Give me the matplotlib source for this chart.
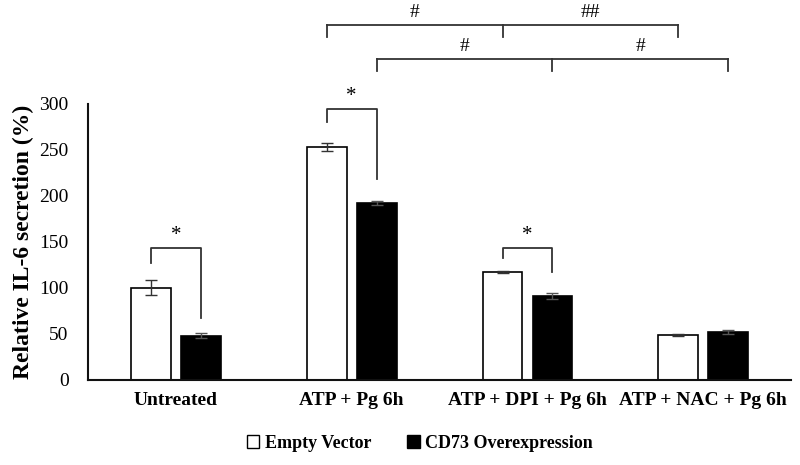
import numpy as np
import matplotlib
matplotlib.use("Agg")
import matplotlib.pyplot as plt
from matplotlib.patches import Patch

plt.rcParams['font.family'] = ['Liberation Serif', 'DejaVu Serif']

# data
groups = ["Untreated", "ATP + Pg 6h", "ATP + DPI + Pg 6h", "ATP + NAC + Pg 6h"]
empty_vec = [100, 253, 117, 49]
empty_err = [8, 4, 1, 1]
cd73 = [48, 192, 91, 52]
cd73_err = [3, 2, 3, 2]
series_names = ["Empty Vector", "CD73 Overexpression"]

fig = plt.figure(figsize=(8, 4.65), dpi=100)
ax = fig.add_axes([0.11, 0.183, 0.879, 0.594])

x = np.arange(len(groups))
w = 0.227
off = 0.142
ax.bar(x - off, empty_vec, w, color="white", edgecolor="black", linewidth=1.2,
       yerr=empty_err, error_kw=dict(ecolor="#333333", capsize=4, elinewidth=1, capthick=1))
ax.bar(x + off, cd73, w, color="black", edgecolor="black", linewidth=1.2,
       yerr=cd73_err, error_kw=dict(ecolor="#555555", capsize=4, elinewidth=1, capthick=1))

ax.set_xlim(-0.5, len(groups) - 0.5)
ax.set_ylim(0, 300)
ax.set_yticks([0, 50, 100, 150, 200, 250, 300])
ax.tick_params(axis="y", length=0, labelsize=14, pad=14)
ax.tick_params(axis="x", length=0, pad=9)
ax.set_xticks(x)
ax.set_xticklabels(groups, fontweight="bold", fontsize=14)
ax.set_ylabel("Relative IL-6 secretion (%)", fontweight="bold", fontsize=17, labelpad=4)
for s in ["top", "right"]:
    ax.spines[s].set_visible(False)
for s in ["left", "bottom"]:
    ax.spines[s].set_linewidth(1.5)
    ax.spines[s].set_color("#111111")

lc = "#333333"

# pairwise '*' brackets within groups
def pair_bracket(i, ytop, yl, yr, label="*"):
    x1, x2 = i - off, i + off
    ax.plot([x1, x1, x2, x2], [yl, ytop, ytop, yr], color=lc, lw=1.3, clip_on=False)
    ax.text(i, ytop + 3, label, ha="center", va="bottom", fontsize=15)

pair_bracket(0, 143, 127, 67)
pair_bracket(1, 294, 280, 218)
pair_bracket(2, 143, 132, 117)

# across-group '#' brackets
def span_bracket(xs, ytop, ylow, labels):
    ax.plot([xs[0], xs[-1]], [ytop, ytop], color=lc, lw=1.3, clip_on=False)
    for xx in xs:
        ax.plot([xx, xx], [ytop, ylow], color=lc, lw=1.3, clip_on=False)
    for a, b, lab in zip(xs[:-1], xs[1:], labels):
        ax.text((a + b) / 2, ytop + 4, lab, ha="center", va="bottom", fontsize=14)

span_bracket([1 - off, 2 - off, 3 - off], 386, 372, ["#", "##"])
span_bracket([1 + off, 2 + off, 3 + off], 349, 336, ["#", "#"])

handles = [Patch(facecolor="white", edgecolor="black", linewidth=1),
           Patch(facecolor="black", edgecolor="black", linewidth=1)]
fig.legend(handles, series_names, loc="center", bbox_to_anchor=(0.525, 0.047), ncol=2,
           frameon=False, handlelength=0.7, handleheight=0.7, handletextpad=0.3,
           columnspacing=2.0, prop=dict(weight="bold", size=13))

fig.savefig("out.png", dpi=100)
